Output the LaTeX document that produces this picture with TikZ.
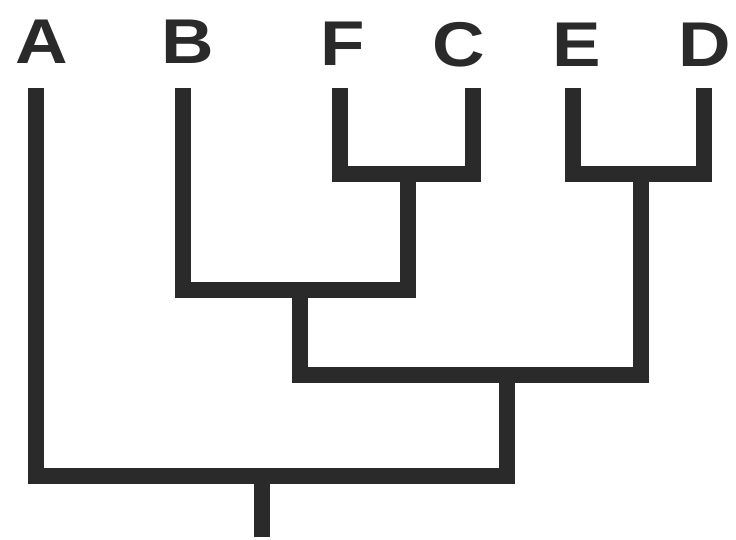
\documentclass[tikz,border=0pt]{standalone}
\usepackage{fontspec}
\setmainfont{Liberation Sans}
\usepackage{tikz}
\usetikzlibrary{calc,positioning}
\definecolor{inkgrey}{HTML}{2A2A2A}

\begin{document}
\begin{tikzpicture}[x=0.02cm,y=-0.02cm,
  branch/.style={draw=inkgrey,line width=9pt,line join=miter},
  taxon/.style={anchor=base,inner sep=0pt,text=inkgrey,xscale=1.15,
    font=\bfseries\fontsize{36}{36}\selectfont}]
\useasboundingbox (0,0) rectangle (736,540);

% taxa
\node[taxon] (lA) at (42,64) {A};
\node[taxon] (lB) at (188,64) {B};
\node[taxon] (lF) at (343,66) {F};
\node[taxon] (lC) at (459,67) {C};
\node[taxon] (lE) at (577,67) {E};
\node[taxon] (lD) at (705,67) {D};

% tips and splits
\coordinate (tA) at (36,88);
\coordinate (tB) at (183,88);
\coordinate (tF) at (340,88);
\coordinate (tC) at (473,88);
\coordinate (tE) at (573,88);
\coordinate (tD) at (704,88);
\coordinate (cFC) at (408,174);
\coordinate (cED) at (641,174);
\coordinate (cBFC) at (300,290);
\coordinate (cMid) at (507,375);
\coordinate (cRoot) at (262,476);
\coordinate (root) at (262,537);

\draw[branch] (tF) |- (cFC) -| (tC);
\draw[branch] (tE) |- (cED) -| (tD);
\draw[branch] (tB) |- (cBFC) -| (cFC);
\draw[branch] (cBFC) |- (cMid) -| (cED);
\draw[branch] (tA) |- (cRoot) -| (cMid);
\draw[branch] (cRoot) -- (root);

\end{tikzpicture}
\end{document}
